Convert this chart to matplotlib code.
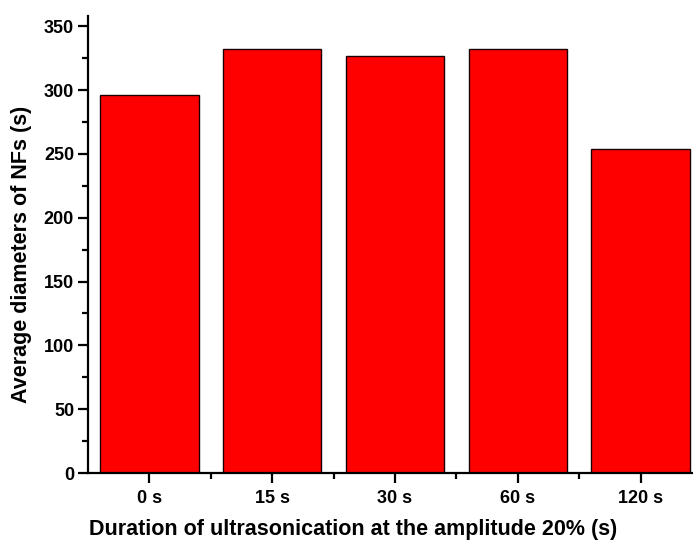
import matplotlib.pyplot as plt
import numpy as np
from matplotlib.ticker import MultipleLocator

## data ##
durations = ['0 s', '15 s', '30 s', '60 s', '120 s']
diameters = [296, 332, 327, 332, 254]

plt.rcParams['font.family'] = ['Liberation Sans', 'DejaVu Sans']
plt.rcParams['font.weight'] = 'bold'

fig = plt.figure(figsize=(6.93, 5.41), dpi=100)
ax = fig.add_axes([88/693., 1 - 473/541., 614/693., 457/541.])

x = np.arange(len(durations))
ax.bar(x, diameters, width=0.8, color='#ff0000', edgecolor='#1a0000', linewidth=1.0)

## axes ##
ax.set_xlim(-0.5, 4.5)
ax.set_ylim(0, 358)
ax.set_xticks(x)
ax.set_xticklabels(durations)
ax.set_xticks(x[:-1] + 0.5, minor=True)
ax.yaxis.set_major_locator(MultipleLocator(50))
ax.yaxis.set_minor_locator(MultipleLocator(25))

for side in ['top', 'right']:
    ax.spines[side].set_visible(False)
for side in ['left', 'bottom']:
    ax.spines[side].set_linewidth(1.6)

ax.tick_params(axis='both', which='major', direction='out', length=7, width=1.6, labelsize=13, pad=3)
ax.tick_params(axis='both', which='minor', direction='out', length=4, width=1.6)
ax.tick_params(axis='x', which='major', pad=5)

ax.set_xlabel('Duration of ultrasonication at the amplitude 20% (s)', fontsize=15.5, fontweight='bold')
ax.set_ylabel('Average diameters of NFs (s)', fontsize=15.5, fontweight='bold')
ax.xaxis.set_label_coords(0.432, -0.100)
ax.yaxis.set_label_coords(-0.091, 0.478)

fig.savefig('out.png', dpi=100)
